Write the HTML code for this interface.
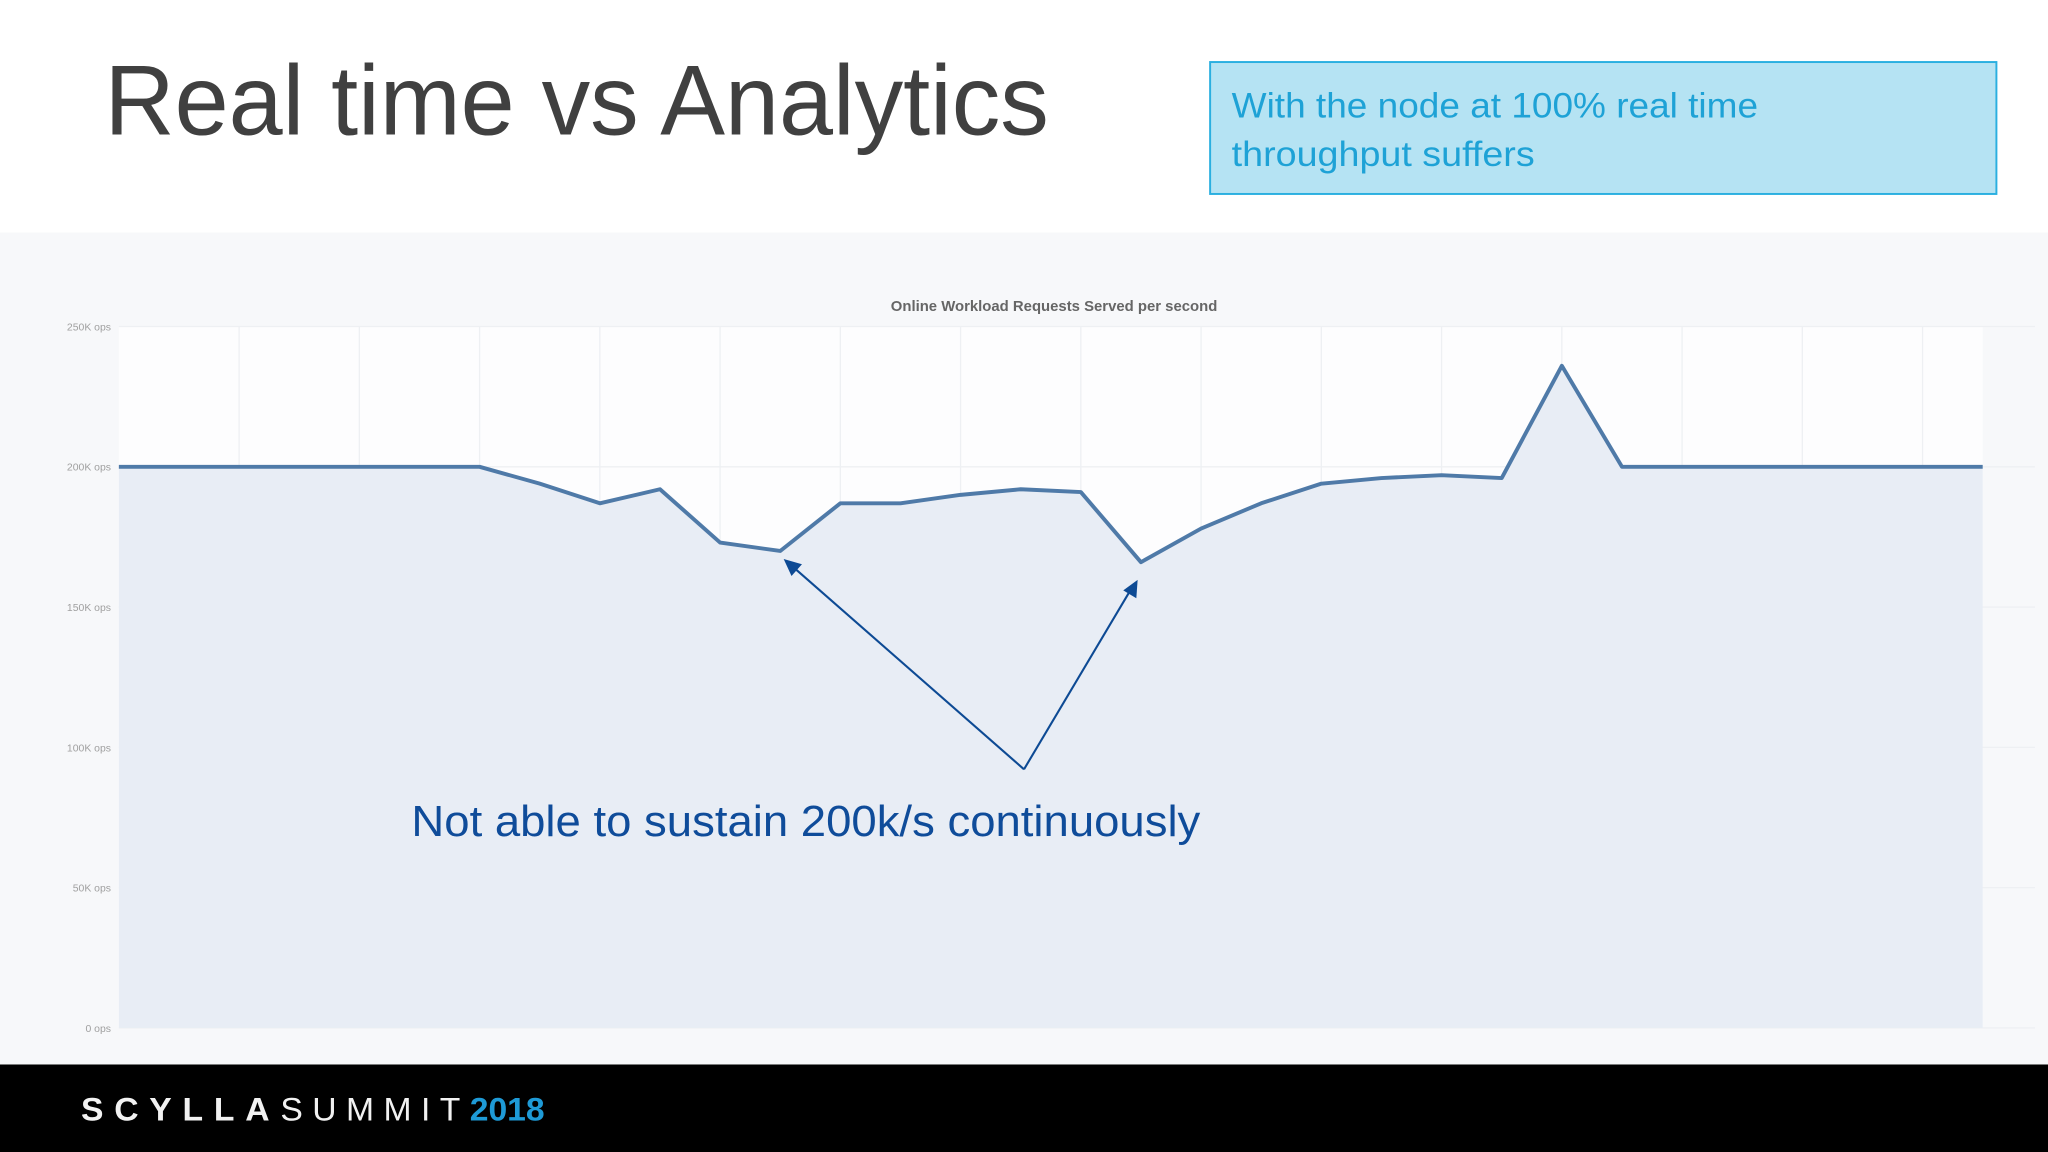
<!DOCTYPE html>
<html><head><meta charset="utf-8"><style>
html,body{margin:0;padding:0;background:#fff;}
svg{display:block;}
</style></head><body>
<svg id="chart" width="2048" height="1152" viewBox="0 0 1568 882" xmlns="http://www.w3.org/2000/svg" font-family="'Liberation Sans', sans-serif">
  <rect x="0" y="0" width="1568" height="882" fill="#ffffff"/>
  <text x="80" y="103" font-size="76" fill="#404040" textLength="723" lengthAdjust="spacingAndGlyphs">Real time vs Analytics</text>
  <g>
    <rect x="926.5" y="47.5" width="602" height="101" fill="#b5e3f3" stroke="#2aafe0" stroke-width="1.5"/>
    <text x="943" y="90" font-size="27" fill="#1ea2d6" textLength="403" lengthAdjust="spacingAndGlyphs">With the node at 100% real time</text>
    <text x="943" y="127" font-size="27" fill="#1ea2d6" textLength="232" lengthAdjust="spacingAndGlyphs">throughput suffers</text>
  </g>
  <rect x="0" y="178" width="1568" height="637" fill="#f7f8fa"/>
  <text x="807" y="238" font-size="11" font-weight="bold" fill="#666" text-anchor="middle" textLength="250" lengthAdjust="spacingAndGlyphs">Online Workload Requests Served per second</text>
  <rect x="91" y="250" width="1427" height="537" fill="#fdfdfe"/>
  <g id="grid"></g>
  <g id="series"></g>
  <g id="yaxis"></g>
  <g stroke="#0d4a94" stroke-width="1.6" fill="#0d4a94">
    <line x1="784" y1="589" x2="606" y2="433"/>
    <polygon points="600,428 614,432 606,441" stroke="none"/>
    <line x1="784" y1="589" x2="866" y2="451"/>
    <polygon points="871,444 870,458 860,452" stroke="none"/>
  </g>
  <text x="315" y="640" font-size="33" fill="#0f4c9a" textLength="604" lengthAdjust="spacingAndGlyphs">Not able to sustain 200k/s continuously</text>
  <rect x="0" y="815" width="1568" height="67" fill="#000"/>
  <text x="62" y="858" font-size="25" fill="#f2f2f2" textLength="355" lengthAdjust="spacingAndGlyphs"><tspan font-weight="bold" letter-spacing="8">SCYLLA</tspan><tspan letter-spacing="7">SUMMIT</tspan><tspan font-weight="bold" fill="#1e9ad6">2018</tspan></text>
</svg>
<script>
const timeIdx = [0,2,4,6,7,8,9,10,11,12,13,14,15,16,17,18,19,20,21,22,23,24,25,26,27,28,29,30,31];
const opsK = [200,200,200,200,194,187,192,173,170,187,187,190,192,191,166,178,187,194,196,197,196,236,200,200,200,200,200,200,200];
const yTicks = [0,50,100,150,200,250];
const yTickLabels = ["0 ops","50K ops","100K ops","150K ops","200K ops","250K ops"];
const gridIdx = [2,4,6,8,10,12,14,16,18,20,22,24,26,28,30];

const X0=91,X1=1518,Y0=787,Y1=250,TMAX=31,VMAX=250;
function xs(t){return X0+(X1-X0)*t/TMAX;}
function ys(v){return Y0-(Y0-Y1)*v/VMAX;}
const NS="http://www.w3.org/2000/svg";
function mk(tag,attrs,parent){const e=document.createElementNS(NS,tag);for(const k in attrs)e.setAttribute(k,attrs[k]);parent.appendChild(e);return e;}

const grid=document.getElementById('grid');
gridIdx.forEach(t=>{
  const l=mk('line',{x1:xs(t),x2:xs(t),y1:Y1,y2:Y0,stroke:'#eef0f3','stroke-width':1},grid);
  
  
});
yTicks.forEach(v=>{
  const l=mk('line',{x1:X0,x2:X1+40,y1:ys(v),y2:ys(v),stroke:'#eef0f3','stroke-width':1},grid);
  
  
});

const yaxis=document.getElementById('yaxis');
yTicks.forEach((v,i)=>{
  const t=mk('text',{x:85,y:ys(v)+3,'font-size':8,fill:'#a0a0a0','text-anchor':'end'},yaxis);
  t.textContent=yTickLabels[i];
  
  
});

const series=document.getElementById('series');
let pts=timeIdx.map((t,i)=>xs(t)+','+ys(opsK[i]));
const area=mk('polygon',{points:xs(timeIdx[0])+','+Y0+' '+pts.join(' ')+' '+xs(timeIdx[timeIdx.length-1])+','+Y0,fill:'#e8edf5'},series);


const line=mk('polyline',{points:pts.join(' '),fill:'none',stroke:'#4f7aa8','stroke-width':3,'stroke-linejoin':'round'},series);


</script>
</body></html>
